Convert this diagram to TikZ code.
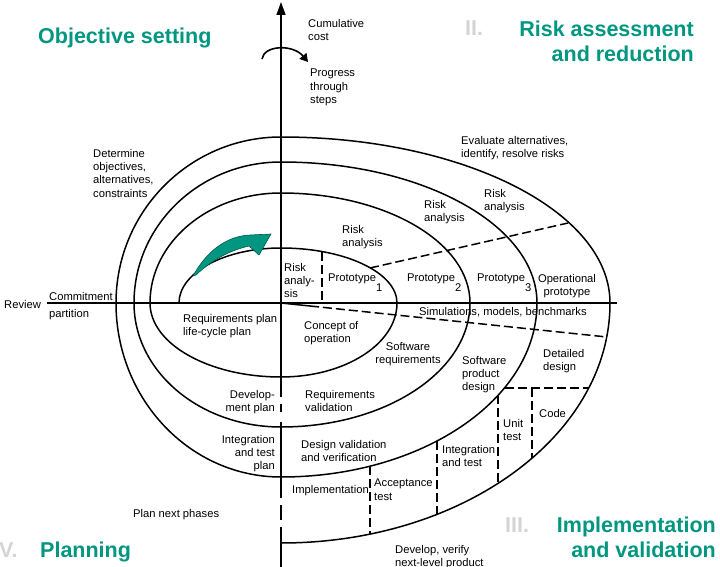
\documentclass[tikz,border=0pt]{standalone}
\usepackage{fontspec}
\setmainfont{Liberation Sans}
\usetikzlibrary{arrows.meta}
\definecolor{teal1}{RGB}{0,150,128}
\definecolor{numgray}{RGB}{212,212,212}
\begin{document}
\begin{tikzpicture}[x=1pt,y=-1pt,
  curve/.style={line width=1.5pt},
  dsh/.style={line width=1.5pt, dash pattern=on 9pt off 4pt},
  lbl/.style={font=\fontsize{11.2}{13.3}\selectfont, inner sep=0pt, align=left, anchor=north west, yshift=8.1pt},
  lblr/.style={lbl, align=right, anchor=north east},
  lblc/.style={lbl, align=center, anchor=north},
  ttl/.style={font=\fontsize{21.5}{25.5}\selectfont\bfseries, text=teal1, inner sep=0pt},
  num/.style={font=\fontsize{21.5}{25.5}\selectfont\bfseries, text=numgray, inner sep=0pt, anchor=base west}
]
\useasboundingbox (0,0) rectangle (720,567);

% axes
\draw[curve, -{Triangle[length=13pt,width=9pt]}] (281,303) -- (281,2);
\draw[curve] (47,303) -- (617,303);
\draw[curve] (281,303) -- (281,397);
\draw[curve] (281,404) -- (281,412);
\draw[curve] (281,422) -- (281,498);
\draw[curve] (281,505) -- (281,520);
\draw[curve] (281,527) -- (281,567);

% spiral
\draw[curve] (179,303)
  arc[start angle=180,end angle=90,x radius=102pt,y radius=55pt]
  arc[start angle=90,end angle=0,x radius=116pt,y radius=55pt]
  arc[start angle=0,end angle=-90,x radius=116pt,y radius=74pt]
  arc[start angle=270,end angle=180,x radius=131pt,y radius=74pt]
  arc[start angle=180,end angle=90,x radius=131pt,y radius=110pt]
  arc[start angle=90,end angle=0,x radius=189pt,y radius=110pt]
  arc[start angle=0,end angle=-90,x radius=189pt,y radius=124pt]
  arc[start angle=270,end angle=180,x radius=147pt,y radius=124pt]
  arc[start angle=180,end angle=90,x radius=147pt,y radius=141pt]
  arc[start angle=90,end angle=0,x radius=256pt,y radius=141pt]
  arc[start angle=0,end angle=-90,x radius=256pt,y radius=174pt]
  arc[start angle=270,end angle=180,x radius=165pt,y radius=174pt]
  arc[start angle=180,end angle=90,x radius=165pt,y radius=166pt]
  arc[start angle=90,end angle=0,x radius=329pt,y radius=166pt]
  arc[start angle=0,end angle=-90,x radius=329pt,y radius=240pt];

% separators
\draw[dsh] (322,252) -- (322,303);
\draw[dsh] (370,268) -- (568,223);
\draw[curve] (281,303) -- (310,306);
\draw[dsh] (310,306) -- (607,337);
\draw[dsh] (505,388) -- (589,388);
\draw[dsh] (532,388) -- (532,458);
\draw[dsh] (498,395) -- (498,483);
\draw[dsh] (437,441) -- (437,514);
\draw[dsh] (370,466) -- (370,534);

% progress arrow
\draw[line width=1.6pt, -{Triangle[length=8pt,width=9pt]}] (262,59) .. controls (264,45) and (293,44) .. (308,62);

% teal arrow
\filldraw[fill=teal1, draw=teal1!60!black, line width=0.6pt] (193,276) .. controls (206,252) and (226,236) .. (250,235) -- (271,234) -- (259,255) -- (249,246) .. controls (232,250) and (214,258) .. (196,275) -- cycle;

% labels
\node[lbl] (cum) at (308,27) {Cumulative\\cost};
\node[lbl] (prog) at (310,77) {Progress\\through\\steps};
\node[lbl] (det) at (93,157) {Determine\\objectives,\\alternatives,\\constraints};
\node[lbl] (eval) at (461,144) {Evaluate alternatives,\\identify, resolve risks};
\node[lbl] (ra3) at (484,197) {Risk\\analysis};
\node[lbl] (ra2) at (424,208) {Risk\\analysis};
\node[lbl] (ra1) at (342,233) {Risk\\analysis};
\node[lbl] (ra0) at (284,271) {Risk\\analy-\\sis};
\node[lbl] (p1) at (328,282) {Prototype\raisebox{-10pt}{1}};
\node[lbl] (p2) at (407,282) {Prototype\raisebox{-10pt}{2}};
\node[lbl] (p3) at (477,282) {Prototype\raisebox{-10pt}{3}};
\node[lblc] (op) at (567,282) {Operational\\prototype};
\node[lbl] (sim) at (419,315) {Simulations, models, benchmarks};
\node[lbl] (rp) at (183,322) {Requirements plan\\life-cycle plan};
\node[lbl] (co) at (304,329) {Concept of\\operation};
\node[lblc] (sr) at (408,350) {Software\\requirements};
\node[lbl] (spd) at (462,364) {Software\\product\\design};
\node[lbl] (dd) at (543,357) {Detailed\\design};
\node[lbl] (code) at (539,417) {Code};
\node[lbl] (ut) at (503,427) {Unit\\test};
\node[lblr] (dp) at (275,398) {Develop-\\ment plan};
\node[lbl] (rv) at (305,398) {Requirements\\validation};
\node[lblr] (itp) at (275,443) {Integration\\and test\\plan};
\node[lbl] (dvv) at (301,448) {Design validation\\and verification};
\node[lbl] (it) at (442,453) {Integration\\and test};
\node[lbl] (impl) at (292,493) {Implementation};
\node[lbl] (acc) at (374,487) {Acceptance\\test};
\node[lbl] (pnp) at (133,517) {Plan next phases};
\node[lbl] (dev) at (395,553) {Develop, verify\\next-level product};
\node[lbl] (review) at (4,308) {Review};
\node[lbl] (commit) at (49,300) {Commitment};
\node[lbl] (part) at (49,317) {partition};

% titles
\node[ttl, anchor=base west] (t1) at (38,44) {Objective setting};
\node[num] (n2) at (465,36) {II.};
\node[ttl, align=right, anchor=north east, yshift=15.4pt] (t2) at (694,36) {Risk assessment\\and reduction};
\node[num] (n3) at (505,532) {III.};
\node[ttl, align=right, anchor=north east, yshift=15.4pt] (t3) at (716,532) {Implementation\\and validation};
\node[num] (n4) at (-7,557) {IV.};
\node[ttl, anchor=base west] (t4) at (40,557) {Planning};
\end{tikzpicture}
\end{document}
